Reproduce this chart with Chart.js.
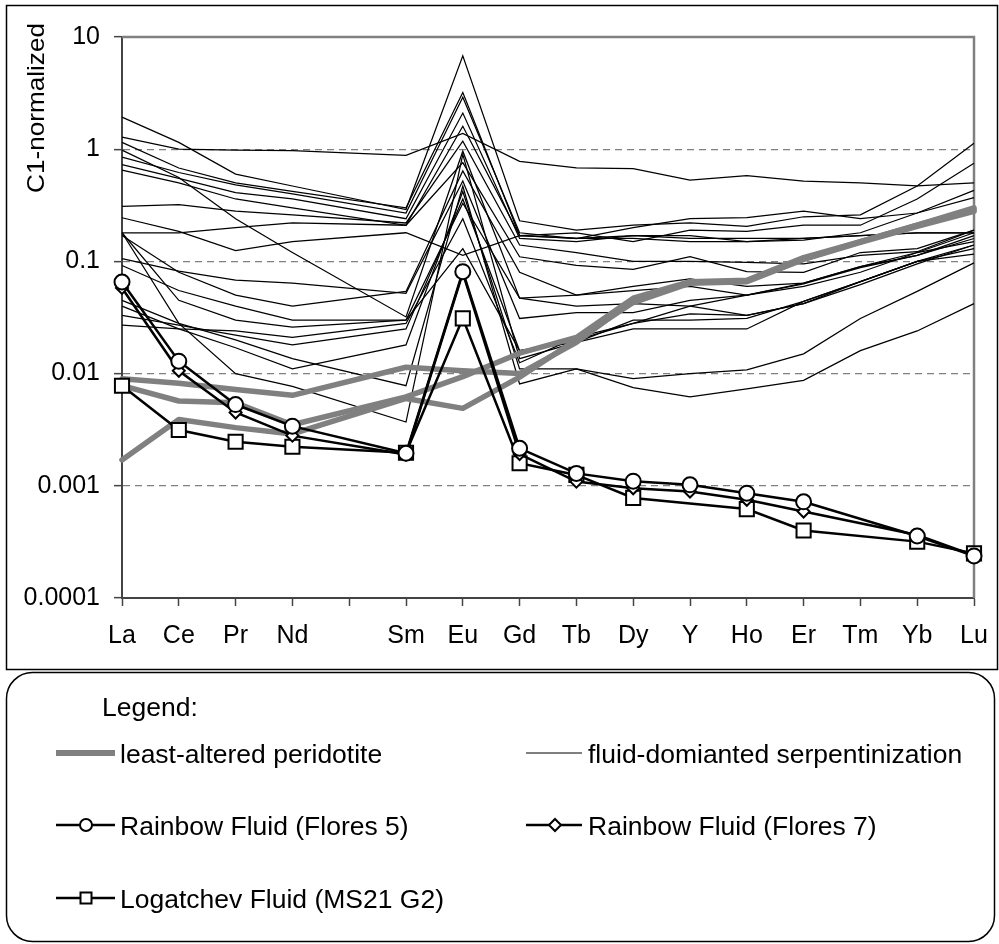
<!DOCTYPE html>
<html>
<head>
<meta charset="utf-8">
<title>C1-normalized REE patterns</title>
<script src="https://cdn.jsdelivr.net/npm/chart.js@4.4.1/dist/chart.umd.min.js"></script>
<style>
  html, body { margin: 0; padding: 0; background: #fff; }
  #wrap { width: 999px; height: 944px; position: relative; }
</style>
</head>
<body>
<div id="wrap"><canvas id="ree" width="999" height="944"></canvas></div>
<script>
// Element order along the x axis (Pm has no data and stays unlabeled)
const elements = ['La', 'Ce', 'Pr', 'Nd', '', 'Sm', 'Eu', 'Gd', 'Tb', 'Dy', 'Y', 'Ho', 'Er', 'Tm', 'Yb', 'Lu'];

// Y axis decades and their labels
const yTicks = [10, 1, 0.1, 0.01, 0.001, 0.0001];
const yTickLabels = ['10', '1', '0.1', '0.01', '0.001', '0.0001'];

// Vent fluids
const rainbowFlores5 = [0.0655, 0.0129, 0.0053, 0.0034, null, 0.00195, 0.081, 0.00216, 0.00129, 0.0011, 0.00102, 0.00086, 0.00072, null, 0.000357, 0.000237];
const rainbowFlores7 = [0.058, 0.0106, 0.0045, 0.0028, null, 0.0019, 0.079, 0.00192, 0.00109, 0.00095, 0.00089, 0.00075, 0.00059, null, 0.000365, 0.00024];
const logatchevMS21 = [0.0078, 0.00314, 0.00247, 0.00223, null, 0.00197, 0.0311, 0.00159, 0.00125, 0.00078, null, 0.00062, 0.0004, null, 0.000318, 0.00025];

// Least-altered peridotites
const peridotiteA = [0.009, 0.0082, 0.0072, 0.0064, null, 0.0114, 0.0106, 0.0100, 0.019, 0.045, 0.065, 0.067, 0.105, 0.15, 0.21, 0.30];
const peridotiteB = [0.0078, 0.0057, 0.0055, 0.0035, null, 0.0062, 0.0094, 0.0152, 0.021, 0.047, 0.066, 0.068, 0.108, 0.15, 0.21, 0.29];
const peridotiteC = [0.0017, 0.0039, 0.0033, 0.0029, null, 0.0060, 0.0049, 0.0093, 0.020, 0.043, 0.064, 0.066, 0.104, 0.148, 0.205, 0.28];

// Fluid-dominated serpentinites
const serp01 = [1.93, 1.15, 0.60, 0.47, null, 0.29, 6.8, 0.23, 0.19, 0.21, 0.22, 0.205, 0.25, 0.26, 0.47, 1.13];
const serp02 = [1.28, 1.0, 0.98, 0.97, null, 0.88, 1.38, 0.78, 0.68, 0.67, 0.53, 0.58, 0.52, 0.50, 0.47, 0.50];
const serp03 = [1.15, 0.68, 0.50, 0.42, null, 0.30, 3.2, 0.17, 0.18, 0.15, 0.19, 0.185, 0.21, 0.21, 0.36, 0.75];
const serp04 = [0.85, 0.62, 0.48, 0.40, null, 0.27, 2.9, 0.18, 0.16, 0.20, 0.24, 0.245, 0.28, 0.24, 0.27, 0.37];
const serp05 = [0.73, 0.55, 0.41, 0.36, null, 0.24, 2.1, 0.16, 0.15, 0.17, 0.17, 0.15, 0.155, 0.18, 0.27, 0.43];
const serp06 = [0.65, 0.50, 0.36, 0.30, null, 0.21, 1.6, 0.17, 0.16, 0.16, 0.15, 0.15, 0.16, 0.17, 0.18, 0.18];
const serp07 = [0.98, 0.56, 0.24, 0.12, null, 0.032, 0.96, 0.047, 0.05, 0.055, 0.06, 0.05, 0.064, 0.09, 0.113, 0.17];
const serp08 = [0.31, 0.32, 0.28, 0.26, null, 0.22, 1.18, 0.14, 0.12, 0.10, 0.10, 0.098, 0.095, 0.113, 0.122, 0.19];
const serp09 = [0.245, 0.185, 0.125, 0.15, null, 0.18, 0.113, 0.17, 0.16, 0.17, 0.16, 0.16, 0.16, 0.17, 0.18, 0.18];
const serp10 = [0.18, 0.18, 0.20, 0.22, null, 0.21, 0.76, 0.11, 0.092, 0.085, 0.11, 0.081, 0.08, 0.12, 0.13, 0.19];
const serp11 = [0.17, 0.08, 0.05, 0.04, null, 0.054, 0.64, 0.08, 0.05, 0.06, 0.07, 0.06, 0.064, 0.09, 0.12, 0.18];
const serp12 = [0.106, 0.082, 0.068, 0.064, null, 0.052, 0.52, 0.031, 0.035, 0.035, 0.045, 0.05, 0.063, 0.088, 0.113, 0.16];
const serp13 = [0.092, 0.055, 0.04, 0.03, null, 0.03, 0.33, 0.047, 0.04, 0.042, 0.04, 0.033, 0.042, 0.066, 0.10, 0.14];
const serp14 = [0.18, 0.028, 0.010, 0.0077, null, 0.0037, 0.90, 0.0136, 0.019, 0.03, 0.03, 0.031, 0.044, 0.066, 0.10, 0.13];
const serp15 = [0.045, 0.028, 0.02, 0.0136, null, 0.0078, 0.47, 0.0081, 0.011, 0.009, 0.010, 0.0108, 0.015, 0.031, 0.054, 0.097];
const serp16 = [0.04, 0.025, 0.017, 0.011, null, 0.018, 0.42, 0.011, 0.011, 0.0075, 0.0062, 0.0073, 0.0087, 0.016, 0.024, 0.042];
const serp17 = [0.033, 0.027, 0.022, 0.018, null, 0.025, 0.36, 0.016, 0.019, 0.025, 0.025, 0.025, 0.044, 0.066, 0.10, 0.116];
const serp18 = [0.027, 0.025, 0.024, 0.021, null, 0.028, 0.24, 0.0125, 0.021, 0.028, 0.034, 0.033, 0.042, 0.062, 0.095, 0.14];
const serp19 = [0.18, 0.045, 0.03, 0.026, null, 0.03, 0.13, 0.016, 0.02, 0.028, 0.04, 0.05, 0.06, 0.08, 0.12, 0.15];

const serpentinites = [serp01, serp02, serp03, serp04, serp05, serp06, serp07, serp08, serp09, serp10,
                       serp11, serp12, serp13, serp14, serp15, serp16, serp17, serp18, serp19];
const peridotites = [peridotiteA, peridotiteB, peridotiteC];

// Legend texts
const legendTitle = 'Legend:';
const legendLabels = ['least-altered peridotite', 'fluid-domianted serpentinization',
                      'Rainbow Fluid (Flores 5)', 'Rainbow Fluid (Flores 7)', 'Logatchev Fluid (MS21 G2)'];
const yAxisTitle = 'C1-normalized';

const FONT = "'Liberation Sans', Arial, Helvetica, sans-serif";
const GRAY = '#808080';

const datasets = [];
function fluid(label, data, style, radius) {
  return {
    label, data, order: 0, spanGaps: true, clip: false,
    borderColor: '#000', borderWidth: 2.5, tension: 0,
    pointStyle: style, pointRadius: radius, pointHoverRadius: radius,
    pointBackgroundColor: '#fff', pointBorderColor: '#000', pointBorderWidth: 2
  };
}
datasets.push(fluid(legendLabels[2], rainbowFlores5, 'circle', 7.5));
datasets.push(fluid(legendLabels[3], rainbowFlores7, 'rectRot', 6));
datasets.push(fluid(legendLabels[4], logatchevMS21, 'rect', 10));
peridotites.forEach(d => datasets.push({
  label: legendLabels[0], data: d, order: 1, spanGaps: true, clip: false,
  borderColor: GRAY, borderWidth: 5.5, pointRadius: 0, tension: 0,
  borderJoinStyle: 'round', borderCapStyle: 'round'
}));
serpentinites.forEach(d => datasets.push({
  label: legendLabels[1], data: d, order: 2, spanGaps: true,
  borderColor: '#000', borderWidth: 1.25, pointRadius: 0, tension: 0
}));

// Draws a legend marker in the same style as the chart points
function marker(ctx, style, x, y, r) {
  ctx.save();
  ctx.fillStyle = '#fff';
  ctx.strokeStyle = '#000';
  ctx.lineWidth = 2;
  ctx.beginPath();
  if (style === 'circle') ctx.arc(x, y, r, 0, Math.PI * 2);
  else if (style === 'rectRot') { ctx.moveTo(x - r, y); ctx.lineTo(x, y - r); ctx.lineTo(x + r, y); ctx.lineTo(x, y + r); ctx.closePath(); }
  else ctx.rect(x - r, y - r, 2 * r, 2 * r);
  ctx.fill();
  ctx.stroke();
  ctx.restore();
}

function stretchedText(ctx, text, x, y, sx) {
  ctx.save();
  ctx.translate(x, y);
  ctx.scale(sx, 1);
  ctx.fillText(text, 0, 0);
  ctx.restore();
}

const decorations = {
  id: 'decorations',
  beforeDatasetsDraw(chart) {
    const { ctx, chartArea: a } = chart;
    ctx.save();
    ctx.strokeStyle = GRAY;
    ctx.lineWidth = 2.5;
    ctx.beginPath();
    ctx.moveTo(a.left, a.top);
    ctx.lineTo(a.right, a.top);
    ctx.lineTo(a.right, a.bottom);
    ctx.stroke();
    ctx.restore();
  },
  afterDraw(chart) {
    const { ctx } = chart;
    ctx.save();
    // outer frame of the plot
    ctx.strokeStyle = '#000';
    ctx.lineWidth = 1.5;
    ctx.strokeRect(6.5, 5.5, 991, 664);

    // y-axis title
    ctx.save();
    ctx.fillStyle = '#000';
    ctx.font = `24px ${FONT}`;
    ctx.translate(37, 108);
    ctx.rotate(-Math.PI / 2);
    const tw = ctx.measureText(yAxisTitle).width;
    ctx.scale(170 / tw, 1);
    ctx.textAlign = 'center';
    ctx.textBaseline = 'middle';
    ctx.fillText(yAxisTitle, 0, 0);
    ctx.restore();

    // legend box
    ctx.beginPath();
    ctx.roundRect(6.5, 672.5, 988, 269, 26);
    ctx.lineWidth = 1.5;
    ctx.strokeStyle = '#000';
    ctx.stroke();

    ctx.fillStyle = '#000';
    ctx.font = `25px ${FONT}`;
    ctx.textAlign = 'left';
    ctx.textBaseline = 'alphabetic';
    const sx = 1.06;
    stretchedText(ctx, legendTitle, 102, 716, sx);

    const cols = [{ x0: 56, x1: 115, tx: 120, mx: 86 }, { x0: 526, x1: 582, tx: 588, mx: 555 }];
    const rows = [{ ly: 753, by: 763 }, { ly: 825, by: 835 }, { ly: 898, by: 908 }];
    const entries = [
      { c: 0, r: 0, color: GRAY, w: 6, style: null },
      { c: 1, r: 0, color: '#000', w: 1, style: null },
      { c: 0, r: 1, color: '#000', w: 2.5, style: 'circle', mr: 6 },
      { c: 1, r: 1, color: '#000', w: 2.5, style: 'rectRot', mr: 6 },
      { c: 0, r: 2, color: '#000', w: 2.5, style: 'rect', mr: 5.5 }
    ];
    entries.forEach((e, i) => {
      const col = cols[e.c], row = rows[e.r];
      ctx.save();
      ctx.strokeStyle = e.color;
      ctx.lineWidth = e.w;
      ctx.beginPath();
      ctx.moveTo(col.x0, row.ly);
      ctx.lineTo(col.x1, row.ly);
      ctx.stroke();
      ctx.restore();
      if (e.style) marker(ctx, e.style, col.mx, row.ly, e.mr);
      stretchedText(ctx, legendLabels[i], col.tx, row.by, sx);
    });
    ctx.restore();
  }
};

new Chart(document.getElementById('ree'), {
  type: 'line',
  data: { labels: elements, datasets },
  plugins: [decorations],
  options: {
    responsive: false,
    animation: false,
    events: [],
    layout: { padding: { left: 0, top: 37, right: 25, bottom: 286 } },
    plugins: { legend: { display: false }, tooltip: { enabled: false }, title: { display: false } },
    scales: {
      x: {
        type: 'category',
        offset: false,
        grid: { drawOnChartArea: false, drawTicks: true, tickLength: 8, tickColor: '#444', tickWidth: 1.5 },
        border: { color: '#444', width: 2 },
        ticks: { color: '#000', font: { family: FONT, size: 25, lineHeight: 1.5 }, padding: 11, autoSkip: false, maxRotation: 0 },
        afterFit(scale) { scale.height = 60; }
      },
      y: {
        type: 'logarithmic',
        min: 0.0001,
        max: 10,
        afterBuildTicks(scale) { scale.ticks = yTicks.map(v => ({ value: v })); },
        ticks: {
          color: '#000',
          font: { family: FONT, size: 25 },
          padding: 14,
          callback: (v) => { const i = yTicks.indexOf(v); return i >= 0 ? yTickLabels[i] : ''; }
        },
        grid: {
          color: (c) => (c.tick && (c.tick.value === 10 || c.tick.value === 0.0001)) ? 'rgba(0,0,0,0)' : GRAY,
          lineWidth: 1.3,
          tickLength: 8,
          tickColor: '#444',
          tickWidth: 1.5
        },
        border: { color: '#444', width: 2, dash: [7, 5] },
        afterFit(scale) { scale.width = 122; }
      }
    }
  }
});
</script>
</body>
</html>
